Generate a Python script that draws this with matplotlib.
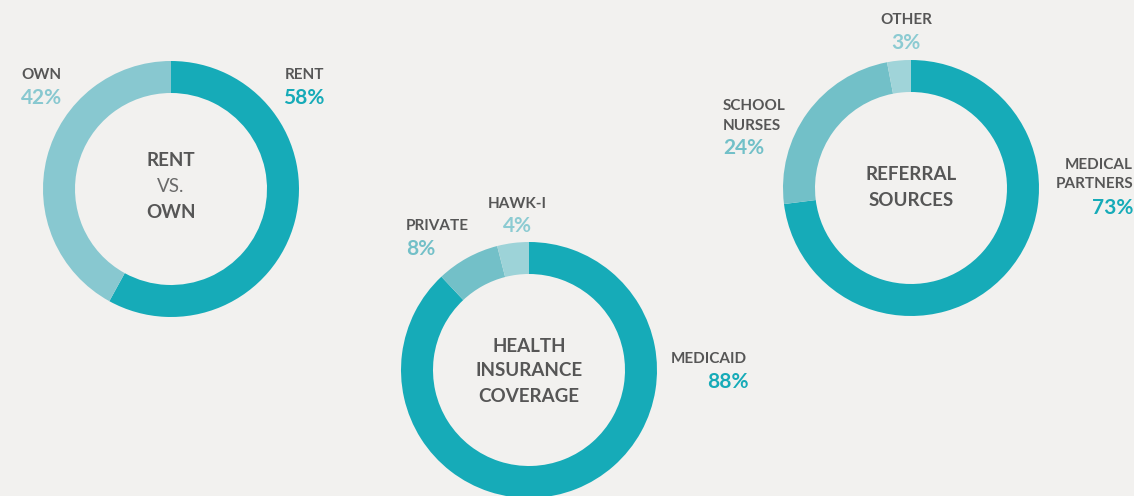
import matplotlib.pyplot as plt

# data
rent_labels = ['RENT', 'OWN']
rent_vals = [58, 42]
health_labels = ['MEDICAID', 'PRIVATE', 'HAWK-I']
health_vals = [88, 8, 4]
ref_labels = ['MEDICAL PARTNERS', 'SCHOOL NURSES', 'OTHER']
ref_vals = [73, 24, 3]

dark = '#16abb8'
grey = '#565656'
bg = '#f2f1ef'
W, H = 1134, 496

plt.rcParams['font.family'] = ['Lato', 'DejaVu Sans']

fig = plt.figure(figsize=(W / 100, H / 100), dpi=100)
fig.patch.set_facecolor(bg)
ax = fig.add_axes([0, 0, 1, 1])
ax.set_facecolor(bg)


def donut(vals, cx, cy, colors):
    # cy given in pixel coords from the top
    ax.pie(vals, center=(cx, H - cy), radius=128, startangle=90, counterclock=False,
           colors=colors, wedgeprops=dict(width=32, linewidth=0), frame=True)


donut(rent_vals, 171, 189, [dark, '#88c8d0'])
donut(health_vals, 529, 370, [dark, '#73c0c8', '#9dd3d8'])
donut(ref_vals, 911, 188, [dark, '#72c0c8', '#a0d4d9'])

ax.set_xlim(0, W)
ax.set_ylim(0, H)
ax.set_aspect('equal')
ax.axis('off')


def txt(x, y, s, color=grey, size=10, weight='bold', ha='left'):
    ax.text(x, H - y, s, color=color, fontsize=size, fontweight=weight, ha=ha, va='center')


lab = 11
pct = 15
cen = 13.5

# rent vs own
txt(21, 75, rent_labels[1], size=lab)
txt(21, 98, '%d%%' % rent_vals[1], color='#88c8d0', size=pct)
txt(324, 75, rent_labels[0], size=lab, ha='right')
txt(324, 98, '%d%%' % rent_vals[0], color=dark, size=pct, ha='right')
txt(171, 161, 'RENT', size=cen, ha='center')
txt(171, 186, 'VS.', color='#6a6a6a', size=cen, weight='normal', ha='center')
txt(171, 212, 'OWN', size=cen, ha='center')

# health insurance
txt(406, 226, health_labels[1], size=lab)
txt(406, 249, '%d%%' % health_vals[1], color='#73c0c8', size=pct)
txt(517, 204, health_labels[2], size=lab, ha='center')
txt(517, 226, '%d%%' % health_vals[2], color='#8ccbd2', size=pct, ha='center')
txt(671, 359, health_labels[0], size=lab)
txt(749, 382, '%d%%' % health_vals[0], color=dark, size=pct, ha='right')
txt(529, 347, 'HEALTH', size=cen, ha='center')
txt(529, 371, 'INSURANCE', size=cen, ha='center')
txt(529, 396, 'COVERAGE', size=cen, ha='center')

# referral sources
txt(906, 20, ref_labels[2], size=lab, ha='center')
txt(906, 43, '%d%%' % ref_vals[2], color='#8ccbd2', size=pct, ha='center')
txt(723, 106, 'SCHOOL', size=lab)
txt(723, 126, 'NURSES', size=lab)
txt(723, 148, '%d%%' % ref_vals[1], color='#72c0c8', size=pct)
txt(1133, 165, 'MEDICAL', size=lab, ha='right')
txt(1133, 184, 'PARTNERS', size=lab, ha='right')
txt(1133, 208, '%d%%' % ref_vals[0], color=dark, size=pct, ha='right')
txt(911, 175, 'REFERRAL', size=cen, ha='center')
txt(911, 201, 'SOURCES', size=cen, ha='center')

fig.savefig('out.png', dpi=100, facecolor=bg)
